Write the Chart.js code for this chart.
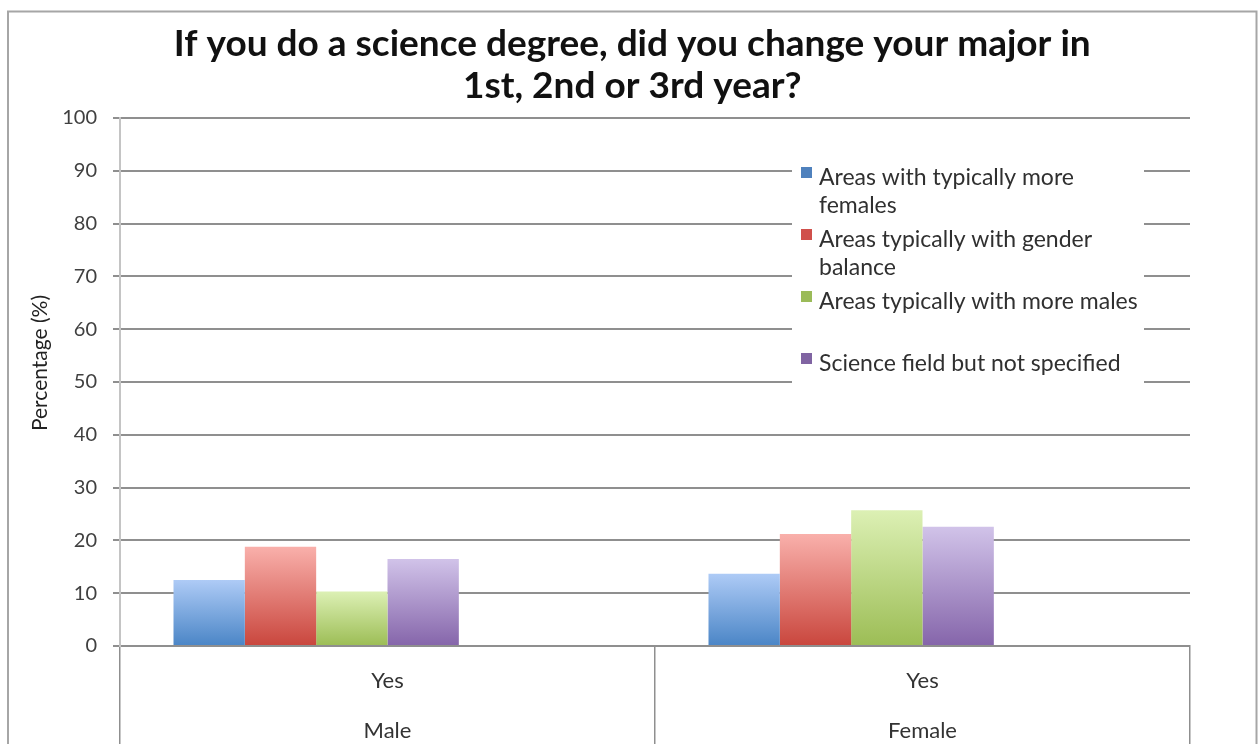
<!DOCTYPE html>
<html>
<head>
<meta charset="utf-8">
<title>Changing major in a science degree</title>
<script src="https://cdn.jsdelivr.net/npm/chart.js@4.4.1/dist/chart.umd.min.js"></script>
<style>
  html, body { margin: 0; padding: 0; background: #ffffff; width: 1260px; height: 744px; overflow: hidden; }
  #wrap { position: absolute; left: 0; top: 0; width: 1260px; height: 800px; }
</style>
</head>
<body>
<div id="wrap"><canvas id="chart" width="1260" height="800"></canvas></div>
<script>
// ---- data ----
const genders = ['Male', 'Female'];
const answers = ['Yes', 'Yes'];
const seriesNames = [
  'Areas with typically more females',
  'Areas typically with gender balance',
  'Areas typically with more males',
  'Science field but not specified'
];
const moreFemales   = [12.5, 13.7];
const genderBalance = [18.8, 21.2];
const moreMales     = [10.3, 25.7];
const notSpecified  = [16.5, 22.6];
// two empty series in the workbook still reserve their bar slots
const emptySeriesA  = [null, null];
const emptySeriesB  = [null, null];
const yTickValues   = [0, 10, 20, 30, 40, 50, 60, 70, 80, 90, 100];
const chartTitle    = ['If you do a science degree, did you change your major in', '1st, 2nd or 3rd year?'];
const yTitle        = 'Percentage (%)';

const FONT = 'Lato, "Open Sans", "DejaVu Sans", sans-serif';

// light-to-dark vertical gradient per bar
function barFill(light, dark) {
  return (ctx) => {
    const chart = ctx.chart;
    if (ctx.type !== 'data' || !chart.chartArea || !chart.scales.y) return dark;
    const v = ctx.raw;
    if (v == null) return dark;
    const top = chart.scales.y.getPixelForValue(v);
    const base = chart.scales.y.getPixelForValue(0);
    const g = chart.ctx.createLinearGradient(0, top, 0, base);
    g.addColorStop(0, light);
    g.addColorStop(1, dark);
    return g;
  };
}

const palette = [
  { light: '#aecbf6', dark: '#4a85c6', swatch: '#4f81bd' },
  { light: '#f9b0ab', dark: '#c9463d', swatch: '#d0504b' },
  { light: '#dcf0b4', dark: '#9cbd55', swatch: '#9bbb59' },
  { light: '#d1c3e9', dark: '#8565aa', swatch: '#8064a2' }
];
const seriesValues = [moreFemales, genderBalance, moreMales, notSpecified];

const datasets = seriesValues.map((vals, i) => ({
  label: seriesNames[i],
  data: vals,
  backgroundColor: barFill(palette[i].light, palette[i].dark),
  swatch: palette[i].swatch,
  borderWidth: 0,
  categoryPercentage: 0.8,
  barPercentage: 1.0
}));
[emptySeriesA, emptySeriesB].forEach(vals => datasets.push({
  label: '',
  data: vals,
  backgroundColor: '#ffffff',
  borderWidth: 0,
  categoryPercentage: 0.8,
  barPercentage: 1.0
}));

// outer frame of the chart object, with the chart title and axis title inside it
const FRAME = { x: 8, y: 11.5, w: 1248.5, h: 1000 };
const framePlugin = {
  id: 'frame',
  beforeDraw(chart) {
    const c = chart.ctx;
    c.save();
    c.fillStyle = '#ffffff';
    c.fillRect(0, 0, chart.width, chart.height);
    c.strokeStyle = '#a6a6a6';
    c.lineWidth = 2;
    c.strokeRect(FRAME.x, FRAME.y, FRAME.w, FRAME.h);
    c.restore();
  },
  afterDraw(chart, args, opts) {
    const c = chart.ctx;
    c.save();
    c.font = 'bold ' + opts.titleSize + 'px ' + FONT;
    c.fillStyle = '#111111';
    c.textAlign = 'center';
    c.textBaseline = 'middle';
    const cx = FRAME.x + FRAME.w / 2;
    chartTitle.forEach((line, i) => c.fillText(line, cx, opts.titleTop + i * opts.titleStep));

    // vertical value-axis title
    c.font = opts.axisTitleSize + 'px ' + FONT;
    c.fillStyle = '#222222';
    c.translate(opts.axisTitleX, opts.axisTitleY);
    c.rotate(-Math.PI / 2);
    c.fillText(yTitle, 0, 0);
    c.restore();
  }
};

// boxed legend sitting over the upper right of the plot
const boxLegendPlugin = {
  id: 'boxLegend',
  afterDatasetsDraw(chart, args, opts) {
    const c = chart.ctx;
    c.save();
    c.fillStyle = '#ffffff';
    c.fillRect(opts.x, opts.y, opts.width, opts.height);
    c.font = opts.fontSize + 'px ' + FONT;
    c.textBaseline = 'alphabetic';
    const textX = opts.x + opts.textOffset;
    let baseline = opts.firstBaseline;
    chart.data.datasets.forEach(ds => {
      if (!ds.label) return;
      // wrap the label to the legend width
      const words = ds.label.split(' ');
      const lines = [];
      let cur = '';
      words.forEach(w => {
        const test = cur ? cur + ' ' + w : w;
        if (c.measureText(test).width > opts.wrapWidth && cur) { lines.push(cur); cur = w; }
        else cur = test;
      });
      lines.push(cur);
      c.fillStyle = ds.swatch;
      c.fillRect(opts.x + opts.swatchOffset, baseline - 18, opts.swatchSize, opts.swatchSize);
      c.fillStyle = '#303030';
      lines.forEach((ln, k) => c.fillText(ln, textX, baseline + k * opts.lineStep));
      baseline += Math.max(lines.length, 2) * opts.lineStep + opts.itemGap;
    });
    c.restore();
  }
};

new Chart(document.getElementById('chart'), {
  type: 'bar',
  data: {
    labels: genders.map((g, i) => [answers[i], g]),
    datasets: datasets
  },
  plugins: [framePlugin, boxLegendPlugin],
  options: {
    responsive: false,
    animation: false,
    events: [],
    layout: { padding: { left: 16, right: 70, top: 118, bottom: 54 } },
    plugins: {
      legend: { display: false },
      tooltip: { enabled: false },
      title: { display: false },
      frame: {
        titleSize: 37, titleTop: 44, titleStep: 42,
        axisTitleSize: 21, axisTitleX: 40, axisTitleY: 363
      },
      boxLegend: {
        x: 792, y: 158, width: 352, height: 228,
        swatchOffset: 9, swatchSize: 11, textOffset: 27,
        fontSize: 23, wrapWidth: 325,
        firstBaseline: 185, lineStep: 28, itemGap: 6
      }
    },
    scales: {
      x: {
        offset: true,
        // two-row category band: answer on top, gender underneath
        afterFit(scale) { scale.height = 100; },
        grid: {
          display: true,
          offset: true,
          drawOnChartArea: false,
          drawTicks: true,
          tickLength: 100,
          color: '#8f8f8f',
          lineWidth: 1.5
        },
        border: { display: true, color: '#8f8f8f', width: 2 },
        ticks: {
          color: '#333333',
          font: { family: FONT, size: 22, lineHeight: 2.27 },
          padding: -90,
          maxRotation: 0,
          autoSkip: false
        }
      },
      y: {
        min: 0,
        max: 100,
        afterBuildTicks(scale) { scale.ticks = yTickValues.map(v => ({ value: v })); },
        // leaves room on the left for the rotated axis title
        afterFit(scale) { scale.width = 104; },
        grid: {
          color: '#8f8f8f',
          lineWidth: 2,
          drawTicks: true,
          tickLength: 7
        },
        border: { display: true, color: '#c4c4c4', width: 2 },
        ticks: {
          color: '#404040',
          font: { family: FONT, size: 20 },
          padding: 16
        },
        title: { display: false }
      }
    }
  }
});
</script>
</body>
</html>
